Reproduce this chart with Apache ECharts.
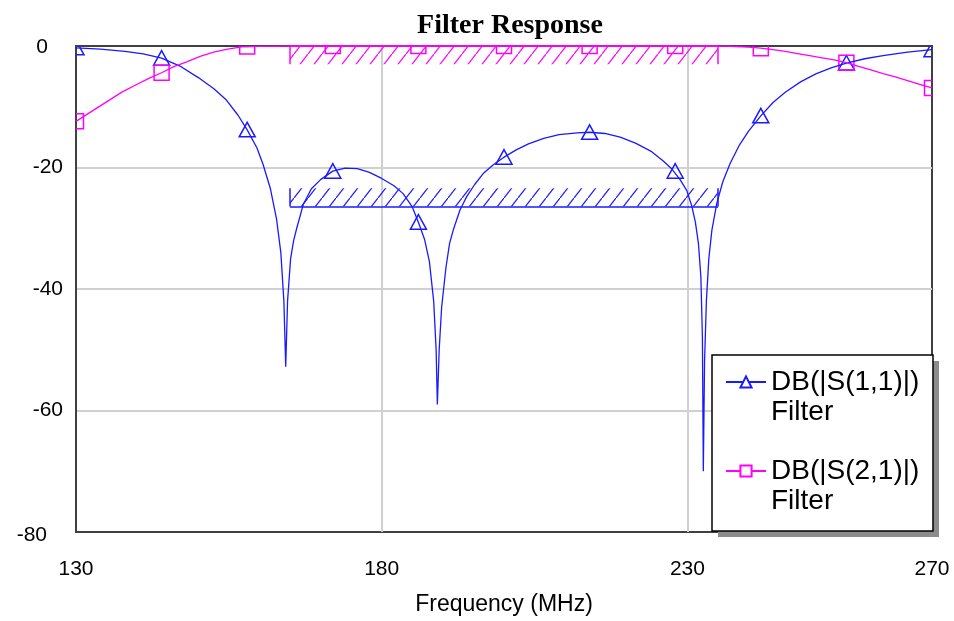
<!DOCTYPE html>
<html>
<head>
<meta charset="utf-8">
<title>Filter Response</title>
<script src="https://cdn.jsdelivr.net/npm/echarts@6/dist/echarts.min.js"></script>
<style>
html, body { margin: 0; padding: 0; background: #fff; }
#main { width: 954px; height: 621px; }
</style>
</head>
<body>
<div id="main"></div>
<script>
var chart = echarts.init(document.getElementById('main'));

// DB(|S(1,1)|) trace
var s11Freq = [130, 134, 138, 141, 144, 147, 150, 152.5, 154.6, 156.5, 158, 159.6, 160.6, 161.8, 162.8, 163.5, 164, 164.3,
  164.6, 165.1, 165.6, 166.1, 167.2, 168.5, 170, 172, 174, 176, 178, 180, 182, 183.5, 185, 186, 187, 187.8, 188.5, 188.9, 189.1,
  189.4, 189.8, 190.5, 191.1, 191.7, 192.8, 193.9, 195.2, 196.6, 198.3, 200, 202, 204, 206.5, 209, 212, 214, 216.5, 219, 221.5,
  224, 226, 227.5, 228.8, 229.9, 230.7, 231.3, 231.8, 232.2, 232.45, 232.6, 232.8, 233.1, 233.5, 234, 234.8, 235.8, 237, 238.5,
  240, 242, 244, 246, 248.5, 251, 253.5, 256, 259, 262, 266, 270];
var s11Db = [-0.3, -0.5, -0.9, -1.3, -2.0, -3.3, -5.2, -7.0, -8.9, -11.4, -13.8, -16.8, -19.5, -23.5, -28.5, -34, -42, -52.8,
  -42, -35, -32, -30, -26, -23.5, -22, -20.6, -20.1, -20.2, -20.8, -21.8, -23, -24.3, -26.5, -29, -31.8, -35.5, -42, -50, -59,
  -50, -43, -36.5, -32.5, -30.3, -27, -24.8, -22.8, -21, -19.5, -18.3, -17.1, -16.1, -15.2, -14.6, -14.3, -14.2, -14.4, -15, -16,
  -17.3, -18.9, -20.3, -22, -23.8, -26.3, -29, -32.5, -38, -48, -70, -52, -42, -35, -30.3, -25.9, -22.3, -19.3, -16.3,
  -14, -11.5, -9.3, -7.6, -5.9, -4.6, -3.6, -2.8, -2.1, -1.6, -1.0, -0.6];

// DB(|S(2,1)|) trace
var s21Freq = [130, 132.5, 135, 137.5, 140, 142, 144, 146, 148.1, 150.3, 152.5, 154.8, 157.1, 160, 165, 200, 236,
  238, 240, 242, 244, 246, 248, 250, 252, 254, 256, 258, 260, 262, 264, 266, 268, 270];
var s21Db = [-12.4, -10.8, -9.2, -7.6, -6.3, -5.3, -4.4, -3.4, -2.6, -1.7, -1.0, -0.5, -0.15, -0.05, 0, 0, 0,
  -0.08, -0.2, -0.35, -0.6, -0.9, -1.25, -1.6, -1.95, -2.3, -2.75, -3.35, -3.95, -4.55, -5.1, -5.7, -6.3, -6.9];

// marker points on both traces
var markerFreq = [130, 144, 158, 172, 186, 200, 214, 228, 242, 256, 270];
var s11Marker = [-0.3, -2.0, -13.8, -20.6, -29, -18.3, -14.2, -20.6, -11.5, -2.8, -0.6];
var s21Marker = [-12.4, -4.4, -0.1, 0, 0, 0, 0, 0, -0.35, -2.75, -6.9];

// goal bands: [start MHz, stop MHz, upper dB, lower dB]
var s21Goal = [165, 235, 0, -3];
var s11Goal = [165, 235, -23.4, -26.4];

var blue = '#1a1aff';
var magenta = '#ff00ff';
var s11Name = 'DB(|S(1,1)|)\nFilter';
var s21Name = 'DB(|S(2,1)|)\nFilter';

function pairs(xs, ys) {
  var out = [];
  for (var i = 0; i < xs.length; i++) out.push([xs[i], ys[i]]);
  return out;
}

// diagonal hatch tile
function hatch(color) {
  var c = document.createElement('canvas');
  c.width = 14; c.height = 18;
  var ctx = c.getContext('2d');
  ctx.strokeStyle = color;
  ctx.lineWidth = 1.2;
  ctx.beginPath();
  ctx.moveTo(-1, 19.3);
  ctx.lineTo(15, -1.3);
  ctx.stroke();
  return c;
}

function goalMarks(g, color, lineAt) {
  return {
    markArea: {
      silent: true,
      itemStyle: { color: { image: hatch(color), repeat: 'repeat' }, borderWidth: 0 },
      data: [[{ coord: [g[0], g[2]] }, { coord: [g[1], g[3]] }]]
    },
    markLine: {
      silent: true,
      symbol: 'none',
      animation: false,
      label: { show: false },
      lineStyle: { color: color, width: 1.5, type: 'solid' },
      data: [
        [{ coord: [g[0], lineAt] }, { coord: [g[1], lineAt] }],
        [{ coord: [g[0], g[2]] }, { coord: [g[0], g[3]] }],
        [{ coord: [g[1], g[2]] }, { coord: [g[1], g[3]] }]
      ]
    }
  };
}

function markerItem(shape, color) {
  return function (params, api) {
    var p = api.coord([api.value(0), api.value(1)]);
    var st = { fill: 'none', stroke: color, lineWidth: 1.5 };
    if (shape === 'triangle') {
      return {
        type: 'polygon',
        shape: { points: [[p[0], p[1] - 7.5], [p[0] + 8, p[1] + 7], [p[0] - 8, p[1] + 7]] },
        style: st
      };
    }
    return { type: 'rect', shape: { x: p[0] - 7.5, y: p[1] - 7.5, width: 15, height: 15 }, style: st };
  };
}

var s11Line = {
  name: s11Name, type: 'line', data: pairs(s11Freq, s11Db),
  showSymbol: false, symbol: 'emptyTriangle', color: blue,
  lineStyle: { color: blue, width: 1.3 }, z: 3, animation: false
};
Object.assign(s11Line, goalMarks(s11Goal, blue, s11Goal[3]));

var s21Line = {
  name: s21Name, type: 'line', data: pairs(s21Freq, s21Db),
  showSymbol: false, symbol: 'emptyRect', color: magenta,
  lineStyle: { color: magenta, width: 1.3 }, z: 3, animation: false
};
Object.assign(s21Line, goalMarks(s21Goal, magenta, s21Goal[2]));

var option = {
  backgroundColor: '#fff',
  animation: false,
  title: {
    text: 'Filter Response',
    left: 505,
    top: 7,
    textAlign: 'center',
    textStyle: { fontFamily: 'Liberation Serif', fontWeight: 'bold', fontSize: 28, color: '#000' }
  },
  grid: {
    left: 76, right: 22, top: 46, bottom: 89,
    show: true, borderColor: '#404040', borderWidth: 2, backgroundColor: '#fff'
  },
  legend: {
    data: [s11Name, s21Name],
    orient: 'vertical',
    left: 725,
    top: 337,
    padding: 0,
    itemGap: -1,
    itemWidth: 40,
    itemHeight: 14,
    selectedMode: false,
    // blank first line keeps the legend icon level with the trace name
    formatter: function (name) { return ' \n' + name; },
    textStyle: { fontFamily: 'Liberation Sans', fontSize: 28, lineHeight: 30, color: '#000' }
  },
  xAxis: {
    type: 'value', min: 130, max: 270, interval: 50,
    name: 'Frequency (MHz)', nameLocation: 'middle', nameGap: 61,
    nameTextStyle: { fontFamily: 'Liberation Sans', fontSize: 23, color: '#000' },
    axisLine: { lineStyle: { color: '#404040', width: 2 } },
    axisTick: { show: false },
    axisLabel: { fontFamily: 'Liberation Sans', fontSize: 21, color: '#000', margin: 27 },
    splitLine: { show: true, showMinLine: false, showMaxLine: false, lineStyle: { color: '#d0d0d0', width: 2 } }
  },
  yAxis: {
    type: 'value', min: -80, max: 0, interval: 20,
    axisLine: { show: true, lineStyle: { color: '#404040', width: 2 } },
    axisTick: { show: false },
    axisLabel: {
      fontFamily: 'Liberation Sans', fontSize: 21, color: '#000', margin: 13,
      formatter: function (v) {
        if (v === 0) return '{top|0}';
        if (v === -80) return '{bot|-80}';
        return String(v);
      },
      rich: {
        top: { fontFamily: 'Liberation Sans', fontSize: 21, color: '#000', padding: [2, 15, 0, 0] },
        bot: { fontFamily: 'Liberation Sans', fontSize: 21, color: '#000', padding: [6, 16, 0, 0] }
      }
    },
    splitLine: { show: true, showMinLine: false, showMaxLine: false, lineStyle: { color: '#d0d0d0', width: 2 } }
  },
  graphic: [{
    type: 'rect', z: 4,
    shape: { x: 718, y: 361, width: 221, height: 176 },
    style: { fill: '#8c8c8c' }
  }, {
    type: 'rect', z: 4,
    shape: { x: 712, y: 355, width: 221, height: 176 },
    style: { fill: '#fff', stroke: '#000', lineWidth: 1.5 }
  }],
  series: [
    s11Line,
    s21Line,
    {
      name: s11Name, type: 'custom', clip: true, z: 3, animation: false,
      data: pairs(markerFreq, s11Marker), encode: { x: 0, y: 1 },
      renderItem: markerItem('triangle', blue)
    },
    {
      name: s21Name, type: 'custom', clip: true, z: 3, animation: false,
      data: pairs(markerFreq, s21Marker), encode: { x: 0, y: 1 },
      renderItem: markerItem('rect', magenta)
    }
  ]
};

chart.setOption(option);
</script>
</body>
</html>
